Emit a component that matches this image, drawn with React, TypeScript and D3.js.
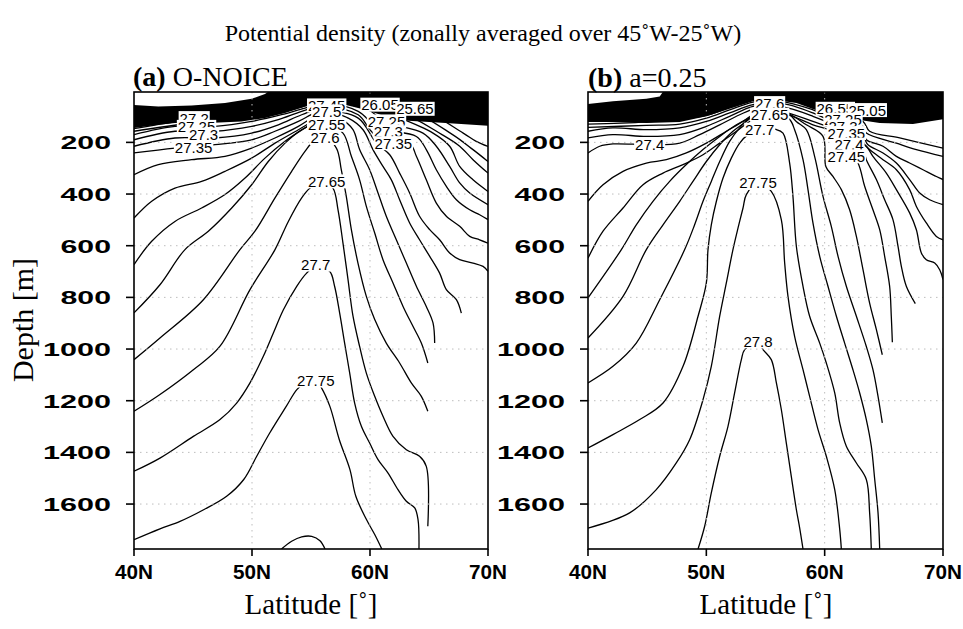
import React from 'react';
import * as d3 from 'd3';

type Pt = [number, number]; // [latitude °N, depth m]

const latTicks = [40, 50, 60, 70];
const latTickLabels = ['40N', '50N', '60N', '70N'];
const depthTicks = [200, 400, 600, 800, 1000, 1200, 1400, 1600];
const latGrid = [50, 60];

// ---- panel (a) O-NOICE: contour lines ----
const a2705: Pt[] = [[40, 138], [44.9, 99], [50, 80], [53.4, 48], [56.75, 22], [63.5, 54], [67.9, 164], [69.0, 196], [70, 216]];
const a2710: Pt[] = [[40, 147], [44.9, 112], [50, 93], [53.4, 61], [56.75, 28], [62.97, 67], [67.0, 170], [68.73, 228], [70, 274]];
const a2715: Pt[] = [[40, 157], [44.89, 125], [49.97, 106], [53.36, 74], [56.75, 35], [62.4, 80], [66.1, 170], [67.6, 215], [68.73, 267], [70, 319]];
const a2720: Pt[] = [[40, 170], [43.47, 138], [46.86, 138], [49.97, 119], [52.5, 93], [54.49, 67], [56.75, 41], [59.58, 54], [61.84, 93], [65.34, 164], [66.75, 215], [67.6, 293], [68.73, 345], [70, 390]];
const a2725: Pt[] = [[40, 190], [43.47, 157], [46.86, 157], [49.97, 138], [52.23, 112], [54.21, 80], [56.75, 48], [59.58, 67], [61.27, 119], [64.49, 164], [65.62, 215], [66.75, 293], [67.6, 357], [68.45, 396], [70, 441]];
const a2730: Pt[] = [[40, 215], [43.47, 183], [46.86, 183], [49.97, 164], [52.23, 132], [54.21, 93], [56.75, 54], [59.0, 80], [60.7, 144], [63.93, 177], [64.77, 228], [65.62, 306], [66.47, 370], [67.32, 422], [68.45, 461], [69.29, 480], [70, 499]];
const a2735: Pt[] = [[40, 241], [43.47, 222], [46.86, 209], [49.97, 190], [51.95, 157], [53.93, 119], [55.34, 86], [56.75, 67], [59.0, 93], [60.42, 170], [63.36, 203], [63.93, 254], [64.77, 345], [65.62, 435], [66.47, 486], [67.6, 525], [68.45, 564], [69.29, 577], [70, 590]];
const a2740: Pt[] = [[40, 325], [42.06, 286], [44.89, 267], [47.71, 254], [49.97, 222], [51.95, 183], [53.93, 138], [55.34, 99], [56.47, 80], [59.0, 106], [60.54, 203], [61.67, 248], [62.51, 319], [63.36, 396], [64.2, 486], [65.06, 538], [65.9, 577], [66.75, 628], [67.6, 654], [68.73, 667], [69.58, 680], [70, 699]];
const a2745: Pt[] = [[40, 493], [41.5, 428], [43.47, 377], [45.73, 351], [47.71, 312], [49.97, 261], [51.95, 203], [53.93, 151], [55.62, 106], [56.47, 86], [58.16, 106], [59.41, 151], [60.25, 228], [61.1, 293], [61.81, 345], [62.51, 422], [63.36, 512], [64.2, 577], [65.06, 641], [65.9, 706], [66.47, 770], [67.32, 809], [67.74, 861]];
const a2750: Pt[] = [[40, 673], [41.5, 583], [43.47, 506], [45.73, 454], [47.71, 402], [49.41, 338], [51.1, 261], [52.8, 196], [54.49, 144], [55.62, 112], [56.19, 99], [57.6, 112], [58.56, 151], [59.12, 228], [59.97, 306], [60.68, 396], [61.38, 486], [62.23, 577], [63.08, 667], [63.93, 757], [64.77, 835], [65.34, 899], [65.48, 977]];
const a2755: Pt[] = [[40, 860], [42.2, 751], [44.32, 615], [46.3, 544], [48.28, 454], [49.97, 364], [51.38, 274], [52.8, 203], [54.21, 151], [55.06, 134], [56.33, 132], [57.71, 164], [58.42, 254], [59.12, 345], [59.69, 448], [60.4, 551], [61.1, 654], [61.95, 744], [62.8, 835], [63.64, 912], [64.35, 977], [64.9, 1054]];
const a2760: Pt[] = [[40, 1041], [42.2, 957], [45.88, 809], [48.98, 615], [50.25, 544], [51.95, 415], [53.36, 312], [54.49, 235], [55.2, 196], [56.19, 183], [57.15, 222], [57.57, 306], [57.99, 409], [58.42, 538], [58.98, 667], [59.69, 796], [60.4, 886], [61.38, 977], [62.51, 1054], [63.5, 1131], [64.35, 1183], [64.9, 1241]];
const a2765: Pt[] = [[40, 1241], [42.2, 1176], [45.03, 1080], [47.29, 989], [49.83, 770], [51.95, 615], [53.08, 506], [54.21, 415], [54.92, 377], [56.0, 351], [56.86, 377], [57.29, 461], [57.71, 590], [58.14, 732], [58.56, 873], [59.12, 990], [59.69, 1093], [60.4, 1183], [61.1, 1260], [61.95, 1338], [63.08, 1390], [64.2, 1415], [64.77, 1454], [64.9, 1686]];
const a2770: Pt[] = [[40, 1473], [42.2, 1422], [45.03, 1338], [47.29, 1273], [48.7, 1209], [49.83, 1131], [50.96, 1028], [51.81, 938], [52.66, 848], [53.79, 757], [54.63, 706], [55.4, 680], [56.58, 699], [57.0, 757], [57.43, 861], [57.85, 977], [58.28, 1093], [58.7, 1209], [59.27, 1299], [59.97, 1364], [60.68, 1428], [61.53, 1480], [62.37, 1544], [63.08, 1589], [63.79, 1615], [64.07, 1660], [64.15, 1774]];
const a2775: Pt[] = [[40, 1738], [42.2, 1696], [43.9, 1667], [45.9, 1622], [47.85, 1570], [49.3, 1505], [50.4, 1415], [51.5, 1325], [52.9, 1222], [53.8, 1157], [54.6, 1125], [55.3, 1115], [55.9, 1151], [56.6, 1222], [57.4, 1351], [58.3, 1467], [58.8, 1570], [59.7, 1660], [60.4, 1718], [61.0, 1774]];
const a2780: Pt[] = [[52.5, 1774], [53.36, 1744], [54.21, 1727], [55.06, 1725], [55.76, 1742], [56.19, 1774]];

// dense near-surface pack (solid black in the figure)
const packTopA: Pt[] = [[39.5, 54], [42.06, 61], [44.89, 57], [47.71, 48], [49.97, 31], [51.1, 13], [51.5, 0], [70.5, 0]];
const packBottomA: Pt[] = [[39.5, 144], [40, 144], [42.06, 132], [43.47, 125], [46.3, 125], [49.1, 119], [51.1, 106], [52.8, 86], [54.49, 61], [56.19, 48], [57.88, 54], [59.58, 74], [61.27, 99], [63.25, 116], [66.07, 124], [68.05, 130], [70, 136], [70.5, 136]];

const labelsA: [string, number, number][] = [
  ['27.2', 45.1, 106], ['27.25', 45.3, 140], ['27.3', 45.9, 170], ['27.35', 45.05, 219],
  ['27.45', 56.33, 57], ['27.5', 56.33, 80], ['27.55', 56.33, 132], ['27.6', 56.19, 183],
  ['27.65', 56.33, 351], ['27.7', 55.4, 673], ['27.75', 55.4, 1122],
  ['26.05', 60.85, 54], ['25.65', 63.81, 70], ['27.25', 61.4, 119], ['27.3', 61.55, 157], ['27.35', 61.98, 203],
];

// ---- panel (b) a=0.25 ----
const b2715: Pt[] = [[40, 119], [44.93, 111], [50, 85], [53.94, 28], [59.01, 41], [63.24, 119], [63.8, 157], [66.34, 183], [70, 222]];
const b2720: Pt[] = [[40, 129], [44.93, 121], [50, 95], [53.94, 35], [59.01, 52], [63.24, 138], [63.52, 164], [66.06, 203], [67.75, 228], [70, 254]];
const b2725: Pt[] = [[40, 142], [44.93, 134], [47.75, 129], [50, 106], [51.97, 74], [53.94, 44], [56.2, 31], [59.01, 61], [61.55, 106], [63.24, 157], [63.52, 190], [64.93, 215], [66.06, 254], [67.18, 280], [68.31, 306], [69.44, 332], [70, 344]];
const b2730: Pt[] = [[40, 157], [42.11, 144], [44.93, 151], [47.75, 144], [50, 119], [51.97, 86], [53.94, 54], [56.2, 41], [59.01, 74], [61.55, 125], [63.24, 177], [63.66, 209], [64.93, 241], [66.06, 280], [67.18, 344], [68.03, 396], [68.87, 422], [70, 441]];
const b2735: Pt[] = [[40, 183], [42.11, 170], [44.93, 177], [47.75, 170], [50, 138], [51.97, 99], [53.94, 61], [56.2, 48], [59.01, 86], [61.55, 144], [63.24, 203], [63.8, 228], [64.93, 267], [66.06, 306], [67.18, 383], [67.75, 448], [68.59, 512], [69.44, 564], [70, 577]];
const b2740: Pt[] = [[40, 241], [40.99, 215], [42.11, 206], [45.21, 209], [47.75, 203], [49.44, 170], [51.13, 132], [52.82, 93], [54.23, 67], [56.2, 61], [59.01, 99], [61.83, 157], [63.52, 215], [64.08, 254], [65.21, 319], [66.06, 383], [67.18, 473], [67.75, 538], [68.17, 628], [68.59, 654], [69.3, 667], [69.72, 693], [70, 731]];
const b2745: Pt[] = [[40, 428], [41.27, 364], [42.96, 312], [44.93, 280], [46.62, 267], [48.31, 241], [50, 203], [51.69, 157], [53.1, 119], [54.23, 86], [56.2, 80], [59.01, 119], [61.83, 170], [63.24, 228], [63.52, 267], [64.37, 344], [65.07, 422], [65.77, 499], [66.2, 603], [66.48, 680], [66.9, 757], [67.66, 824]];
const b2750: Pt[] = [[40, 648], [41.27, 544], [42.96, 454], [44.65, 364], [46.34, 319], [48.03, 286], [49.72, 248], [51.13, 203], [52.54, 157], [53.66, 119], [54.79, 93], [56.76, 93], [59.01, 132], [61.27, 170], [62.82, 280], [63.38, 370], [64.08, 461], [64.65, 538], [65.07, 641], [65.49, 757], [65.63, 873], [65.72, 974]];
const b2755: Pt[] = [[40, 802], [42.82, 615], [44.08, 519], [45.49, 428], [46.9, 351], [48.31, 286], [49.72, 228], [51.13, 177], [52.54, 132], [53.94, 99], [55.07, 80], [56.76, 86], [58.45, 132], [59.86, 177], [60.1, 293], [60.7, 332], [61.41, 383], [62.11, 461], [62.68, 564], [63.24, 693], [63.8, 822], [64.37, 925], [64.87, 1022]];
const b2760: Pt[] = [[40, 957], [42.96, 796], [44.93, 615], [46.34, 519], [47.75, 428], [48.87, 351], [50, 274], [51.13, 209], [52.25, 157], [53.38, 119], [54.51, 74], [55.35, 48], [56.5, 67], [57.6, 119], [58.45, 151], [59.15, 254], [59.86, 409], [60.56, 525], [61.13, 641], [61.83, 757], [62.68, 873], [63.52, 990], [64.08, 1080], [64.51, 1183], [64.87, 1286]];
const b2765: Pt[] = [[40, 1131], [42.11, 1067], [44.08, 977], [46.06, 809], [48.17, 615], [49.01, 519], [49.72, 428], [50.42, 351], [51.13, 274], [51.97, 196], [52.82, 144], [53.66, 106], [55.35, 93], [57.0, 110], [57.46, 151], [58.17, 267], [58.59, 383], [59.01, 512], [59.58, 641], [60.28, 757], [60.99, 873], [61.69, 977], [62.39, 1080], [62.96, 1170], [63.52, 1273], [63.94, 1376], [64.23, 1505], [64.51, 1634], [64.65, 1774]];
const b2770: Pt[] = [[40, 1383], [42.11, 1331], [44.37, 1273], [46.34, 1209], [48.03, 1067], [49.3, 873], [50, 744], [50.14, 615], [50.42, 519], [50.85, 428], [51.41, 338], [52.11, 261], [52.82, 203], [53.52, 170], [54.51, 151], [55.9, 150], [56.48, 164], [57.04, 280], [57.32, 409], [57.61, 603], [58.17, 757], [58.73, 873], [59.58, 977], [60.14, 1054], [60.85, 1170], [61.27, 1286], [61.83, 1376], [62.68, 1441], [63.52, 1505], [63.8, 1634], [63.94, 1774]];
const b2775: Pt[] = [[40, 1693], [43.52, 1634], [45.77, 1544], [47.46, 1441], [48.59, 1351], [49.72, 1196], [50.42, 1067], [51.13, 873], [51.69, 744], [52.25, 615], [52.68, 531], [53.1, 454], [53.38, 402], [54.37, 357], [55.49, 390], [56.34, 500], [56.62, 667], [56.9, 796], [57.46, 951], [58.17, 1080], [58.73, 1183], [59.44, 1312], [60.14, 1415], [60.85, 1544], [61.27, 1697], [61.41, 1774]];
const b2780: Pt[] = [[49.3, 1774], [49.86, 1686], [50.42, 1557], [51.13, 1415], [51.83, 1299], [52.39, 1170], [52.96, 1041], [53.24, 1002], [54.37, 970], [54.79, 1002], [55.49, 1041], [55.92, 1131], [56.34, 1235], [56.76, 1364], [57.18, 1493], [57.61, 1622], [57.89, 1693], [58.17, 1774]];

const packTopB: Pt[] = [[39.5, 54], [42.11, 41], [44.93, 31], [46.06, 22], [46.4, 0], [70.5, 0]];
const packBottomB: Pt[] = [[39.5, 121], [40, 121], [42.11, 121], [44.93, 125], [47.75, 121], [50, 99], [51.97, 70], [53.94, 41], [55.63, 35], [57.61, 48], [59.58, 80], [61.83, 106], [64.65, 125], [67.46, 129], [70, 110], [70.5, 110]];

const labelsB: [string, number, number][] = [
  ['27.4', 45.21, 209],
  ['27.6', 55.35, 48], ['27.65', 55.35, 93], ['27.7', 54.51, 151], ['27.75', 54.37, 357], ['27.8', 54.37, 970],
  ['26.55', 60.9, 70], ['25.05', 63.6, 75],
  ['27.25', 61.55, 112], ['27.3', 61.55, 138], ['27.35', 61.83, 164], ['27.4', 62.06, 209], ['27.45', 61.83, 254],
];

const contoursA = [a2705, a2710, a2715, a2720, a2725, a2730, a2735, a2740, a2745, a2750, a2755, a2760, a2765, a2770, a2775, a2780];
const contoursB = [b2715, b2720, b2725, b2730, b2735, b2740, b2745, b2750, b2755, b2760, b2765, b2770, b2775, b2780];

const yTop = 92;
const yBot = 549;
const sans = 'Liberation Sans, Arial, sans-serif';
const serif = 'Liberation Serif, Times New Roman, serif';

const labelWidth = (s: string) => s.replace('.', '').length * 8.3 + (s.includes('.') ? 4.2 : 0);

type PanelProps = {
  id: string;
  x0: number;
  x1: number;
  contours: Pt[][];
  packTop: Pt[];
  packBottom: Pt[];
  labels: [string, number, number][];
};

const Panel = ({ id, x0, x1, contours, packTop, packBottom, labels }: PanelProps) => {
  const x = d3.scaleLinear().domain([40, 70]).range([x0, x1]);
  const y = d3.scaleLinear().domain([5, 1774]).range([yTop, yBot]);
  const line = d3.line<Pt>().x(d => x(d[0])).y(d => y(d[1])).curve(d3.curveCatmullRom.alpha(0.5));
  const poly = d3.line<Pt>().x(d => x(d[0])).y(d => y(d[1])).curve(d3.curveLinearClosed);
  const packPts = packTop.concat(packBottom.slice().reverse());

  return (
    <g>
      <defs>
        <clipPath id={id}>
          <rect x={x0} y={yTop} width={x1 - x0} height={yBot - yTop} />
        </clipPath>
      </defs>
      <g clipPath={`url(#${id})`}>
        <path d={poly(packPts) || ''} fill="#000" />
        {contours.map((c, i) => (
          <path key={i} d={line(c) || ''} fill="none" stroke="#000" strokeWidth={1.3} />
        ))}
        {/* dotted grid drawn over the contours */}
        {latGrid.map(l => (
          <line key={'gx' + l} x1={x(l)} x2={x(l)} y1={yTop} y2={yBot} stroke="#bdbdbd" strokeWidth={1} strokeDasharray="1.5,4.5" />
        ))}
        {depthTicks.map(d => (
          <line key={'gy' + d} x1={x0} x2={x1} y1={y(d)} y2={y(d)} stroke="#bdbdbd" strokeWidth={1} strokeDasharray="1.5,4.5" />
        ))}
        {labels.map(([t, lat, dep], i) => {
          const w = labelWidth(t);
          return (
            <g key={'l' + i}>
              <rect x={x(lat) - w / 2 - 1} y={y(dep) - 7} width={w + 2} height={14} fill="#fff" />
              <text x={x(lat)} y={y(dep) + 5.5} textAnchor="middle" fontFamily={sans} fontSize={15} fill="#000">{t}</text>
            </g>
          );
        })}
      </g>
      <rect x={x0} y={yTop} width={x1 - x0} height={yBot - yTop} fill="none" stroke="#000" strokeWidth={1.6} />
      {depthTicks.map(d => (
        <g key={'ty' + d}>
          <line x1={x0 - 8} x2={x0} y1={y(d)} y2={y(d)} stroke="#000" strokeWidth={1.6} />
          <text x={x0 - 23} y={y(d) + 7} textAnchor="end" fontFamily={sans} fontWeight="bold" fontSize={19}
            textLength={String(d).length * 17.5 - 2} lengthAdjust="spacingAndGlyphs">{d}</text>
        </g>
      ))}
      {latTicks.map((l, i) => (
        <g key={'tx' + l}>
          <line x1={x(l)} x2={x(l)} y1={yBot} y2={yBot + 7} stroke="#000" strokeWidth={1.6} />
          <text x={x(l)} y={yBot + 30} textAnchor="middle" fontFamily={sans} fontWeight="bold" fontSize={21}
            textLength={38} lengthAdjust="spacingAndGlyphs">{latTickLabels[i]}</text>
        </g>
      ))}
    </g>
  );
};

export default function App() {
  return (
    <div style={{ position: 'absolute', left: 0, top: 0 }}>
      <svg width={963} height={629} style={{ display: 'block', background: '#fff' }}>
        <text x={483} y={41} textAnchor="middle" fontFamily={serif} fontSize={24}>
          Potential density (zonally averaged over 45˚W-25˚W)
        </text>
        <text x={133} y={86} fontFamily={serif} fontSize={28}>
          <tspan fontWeight="bold">(a)</tspan> O-NOICE
        </text>
        <text x={588} y={87} fontFamily={serif} fontSize={28}>
          <tspan fontWeight="bold">(b)</tspan> a=0.25
        </text>
        <text transform="translate(33,320) rotate(-90)" textAnchor="middle" fontFamily={serif} fontSize={30}>
          Depth [m]
        </text>
        <text x={311} y={614} textAnchor="middle" fontFamily={serif} fontSize={29}>Latitude [˚]</text>
        <text x={766} y={614} textAnchor="middle" fontFamily={serif} fontSize={29}>Latitude [˚]</text>
        <Panel id="clipA" x0={134} x1={488} contours={contoursA} packTop={packTopA} packBottom={packBottomA} labels={labelsA} />
        <Panel id="clipB" x0={588} x1={943} contours={contoursB} packTop={packTopB} packBottom={packBottomB} labels={labelsB} />
      </svg>
    </div>
  );
}
